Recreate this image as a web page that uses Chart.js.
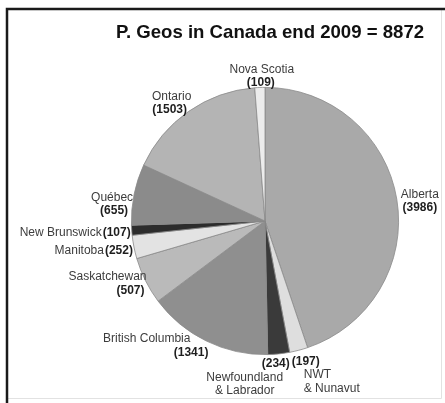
<!DOCTYPE html>
<html>
<head>
<meta charset="utf-8">
<script src="https://cdn.jsdelivr.net/npm/chart.js@4/dist/chart.umd.min.js"></script>
<style>
  html, body { margin: 0; padding: 0; background: #fff; }
  #wrap { width: 445px; height: 403px; }
</style>
</head>
<body>
<div id="wrap"><canvas id="geo-chart" width="445" height="403"></canvas></div>
<script>
// slices, clockwise from 12 o'clock
var provinces = ["Alberta", "NWT\n& Nunavut", "Newfoundland\n& Labrador", "British Columbia",
                 "Saskatchewan", "Manitoba", "New Brunswick", "Québec", "Ontario", "Nova Scotia"]
var geos = [3986, 197, 234, 1341, 507, 252, 107, 655, 1503, 109]
var shades = ["#a9a9a9", "#dedede", "#3a3a3a", "#8f8f8f", "#bababa",
              "#e3e3e3", "#2c2c2c", "#8b8b8b", "#b4b4b4", "#ececec"]
var chartTitle = "P. Geos in Canada end 2009 = 8872"

// label placement relative to the outer edge of each slice's mid angle
// mode: stack = name over value, valueFirst = value over name, inline = one line
var labelLayout = [
    { dx: 23,  dy: -5,  align: "center", mode: "stack", vdx: 0 },
    { dx: 5,   dy: 11,  align: "left",   mode: "valueFirst", vdx: -12 },
    { dx: -34, dy: 10,  align: "center", mode: "valueFirst", vdx: 31 },
    { dx: -16, dy: -2,  align: "right",  mode: "stack", vdx: 18 },
    { dx: 1,   dy: -4,  align: "right",  mode: "stack", vdx: -2 },
    { dx: -1,  dy: 4,   align: "right",  mode: "inline", vdx: 0 },
    { dx: -1,  dy: 2,   align: "right",  mode: "inline", vdx: 0 },
    { dx: -22, dy: 3,   align: "center", mode: "stack", vdx: 2 },
    { dx: -17, dy: -15, align: "center", mode: "stack", vdx: -2 },
    { dx: 2,   dy: -18, align: "center", mode: "stack", vdx: -1 }
]

const nameFont = "12px 'Liberation Sans', Arial, sans-serif"
const valueFont = "bold 12px 'Liberation Sans', Arial, sans-serif"
const lineGap = 13.5

// frame + title
const framePlugin = {
    id: "frame",
    beforeDraw(chart) {
        var ctx = chart.ctx
        ctx.save()
        ctx.fillStyle = "#ffffff"
        ctx.fillRect(0, 0, chart.width, chart.height)
        ctx.strokeStyle = "#e2e2e2"
        ctx.lineWidth = 1
        ctx.beginPath()
        ctx.moveTo(441.5, 9)
        ctx.lineTo(441.5, 398.5)
        ctx.lineTo(7, 398.5)
        ctx.stroke()
        ctx.strokeStyle = "#1a1a1a"
        ctx.lineWidth = 2.5
        ctx.beginPath()
        ctx.moveTo(7, 403)
        ctx.lineTo(7, 9)
        ctx.lineTo(445, 9)
        ctx.stroke()

        ctx.fillStyle = "#111"
        ctx.font = "bold 18.6px 'Liberation Sans', Arial, sans-serif"
        ctx.textAlign = "center"
        ctx.textBaseline = "middle"
        ctx.fillText(chartTitle, 270, 33)
        ctx.restore()
    }
}

// outside labels
const labelPlugin = {
    id: "outsideLabels",
    afterDatasetsDraw(chart) {
        var ctx = chart.ctx
        var arcs = chart.getDatasetMeta(0).data
        ctx.save()
        ctx.textBaseline = "middle"
        arcs.forEach(function (arc, i) {
            var p = arc.getProps(["x", "y", "startAngle", "endAngle", "outerRadius"], true)
            var mid = (p.startAngle + p.endAngle) / 2
            var ax = p.x + Math.cos(mid) * p.outerRadius
            var ay = p.y + Math.sin(mid) * p.outerRadius
            var lay = labelLayout[i]
            var x = ax + lay.dx
            var y = ay + lay.dy
            var names = provinces[i].split("\n")
            var val = "(" + geos[i] + ")"
            ctx.textAlign = lay.align

            if (lay.mode === "inline") {
                ctx.font = valueFont
                ctx.fillStyle = "#1e1e1e"
                var vw = ctx.measureText(val).width
                ctx.fillText(val, x, y)
                ctx.font = nameFont
                ctx.fillStyle = "#3c3c3c"
                ctx.fillText(names[0], x - vw - 1, y)
                return
            }

            var lines = []
            if (lay.mode === "valueFirst") {
                lines.push({ t: val, bold: true })
                names.forEach(function (n) { lines.push({ t: n, bold: false }) })
            } else {
                names.forEach(function (n) { lines.push({ t: n, bold: false }) })
                lines.push({ t: val, bold: true })
            }
            lines.forEach(function (ln, k) {
                ctx.font = ln.bold ? valueFont : nameFont
                ctx.fillStyle = ln.bold ? "#1e1e1e" : "#3c3c3c"
                ctx.fillText(ln.t, x + (ln.bold ? lay.vdx : 0), y + k * lineGap)
            })
        })
        ctx.restore()
    }
}

var geoChart = new Chart(document.getElementById("geo-chart"), {
    type: "pie",
    data: {
        labels: provinces,
        datasets: [{
            data: geos,
            backgroundColor: shades,
            borderColor: "#8a8a8a",
            borderWidth: 0.8
        }]
    },
    options: {
        responsive: false,
        animation: false,
        layout: {
            padding: { top: 87, bottom: 48, left: 131, right: 46 }
        },
        plugins: {
            legend: { display: false },
            tooltip: { enabled: false },
            title: { display: false }
        }
    },
    plugins: [framePlugin, labelPlugin]
})
</script>
</body>
</html>
